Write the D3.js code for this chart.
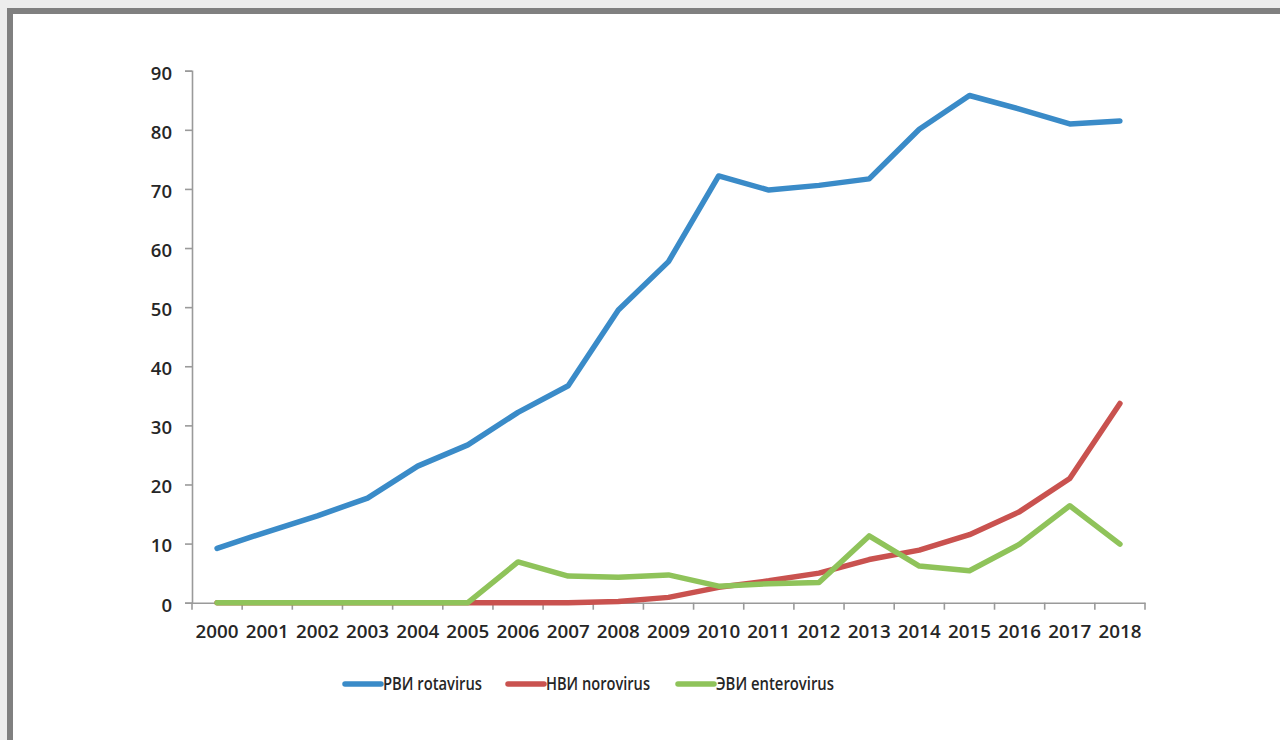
<!DOCTYPE html>
<html>
<head>
<meta charset="utf-8">
<script src="https://cdn.jsdelivr.net/npm/d3@7"></script>
<style>
  html, body { margin: 0; padding: 0; background: #fff; }
  svg { display: block; }
  text { font-family: "Open Sans", "Liberation Sans", sans-serif; fill: #262626; font-weight: 600; }
</style>
</head>
<body>
<svg id="chart" width="1280" height="740"></svg>
<script>
// Years on the category axis
const years = ["2000","2001","2002","2003","2004","2005","2006","2007","2008","2009",
               "2010","2011","2012","2013","2014","2015","2016","2017","2018"];

// Series values per year
const rotavirus  = [9.2, 12.0, 14.7, 17.7, 23.1, 26.7, 32.2, 36.7, 49.5, 57.7,
                    72.2, 69.8, 70.6, 71.7, 80.1, 85.8, 83.5, 81.0, 81.5];
const norovirus  = [0, 0, 0, 0, 0, 0, 0, 0, 0.2, 0.9,
                    2.6, 3.7, 5.0, 7.3, 8.9, 11.5, 15.4, 21.0, 33.7];
const enterovirus = [0, 0, 0, 0, 0, 0, 6.9, 4.5, 4.3, 4.7,
                     2.8, 3.2, 3.4, 11.3, 6.2, 5.4, 9.9, 16.4, 9.9];

// Y axis ticks
const yTicks = [0, 10, 20, 30, 40, 50, 60, 70, 80, 90];

const seriesNames  = ["РВИ rotavirus", "НВИ norovirus", "ЭВИ enterovirus"];
const seriesColors = ["#3a8bc8", "#c9524f", "#8fc35a"];
const seriesData   = [rotavirus, norovirus, enterovirus];

const svg = d3.select("#chart");

// Page frame: light outer strip with a darker border along top and left
svg.append("rect").attr("x", 0).attr("y", 0).attr("width", 1280).attr("height", 740).attr("fill", "#ededed");
svg.append("rect").attr("x", 7).attr("y", 8).attr("width", 1273).attr("height", 732).attr("fill", "#808080");
svg.append("rect").attr("x", 13).attr("y", 14).attr("width", 1267).attr("height", 726).attr("fill", "#ffffff");

const plot = { left: 192, right: 1145, top: 70.7, bottom: 602.7 };

const x = d3.scaleBand().domain(years).range([plot.left, plot.right]);
const y = d3.scaleLinear().domain([0, 90]).range([plot.bottom, plot.top]);

const axisColor = "#9a9a9a";

// Y axis
const yAxis = svg.append("g")
  .attr("transform", `translate(${plot.left},0)`)
  .call(d3.axisLeft(y).tickValues(yTicks).tickSize(7).tickPadding(13));
yAxis.select(".domain").attr("stroke", axisColor).attr("stroke-width", 1.6);
yAxis.selectAll(".tick line").attr("stroke", axisColor).attr("stroke-width", 1.6);
yAxis.selectAll(".tick text")
  .style("font-family", "'Open Sans', sans-serif")
  .style("font-weight", 600)
  .style("font-size", "18.5px").attr("fill", "#262626").attr("dy", "0.45em");

// X axis with ticks at the category boundaries
const xAxis = svg.append("g")
  .attr("transform", `translate(0,${plot.bottom})`)
  .call(d3.axisBottom(x).tickSize(0).tickPadding(23));
xAxis.select(".domain").attr("stroke", axisColor).attr("stroke-width", 1.6);
xAxis.selectAll(".tick text")
  .style("font-family", "'Open Sans', sans-serif")
  .style("font-weight", 600)
  .style("font-size", "18px").attr("fill", "#262626")
  .attr("textLength", 43).attr("lengthAdjust", "spacingAndGlyphs");
const bounds = years.map(d => x(d)).concat([x(years[years.length - 1]) + x.bandwidth()]);
xAxis.selectAll(".bound")
  .data(bounds)
  .enter().append("line")
  .attr("class", "bound")
  .attr("x1", d => d).attr("x2", d => d)
  .attr("y1", 0).attr("y2", 7)
  .attr("stroke", axisColor).attr("stroke-width", 1.6);

// Series lines
const line = d3.line()
  .x((d, i) => x(years[i]) + x.bandwidth() / 2)
  .y(d => y(d));

[1, 0, 2].forEach(k => {
  svg.append("path")
    .datum(seriesData[k])
    .attr("d", line)
    .attr("fill", "none")
    .attr("stroke", seriesColors[k])
    .attr("stroke-width", 5.5)
    .attr("stroke-linejoin", "round")
    .attr("stroke-linecap", "round");
});

// Legend
const legendX = [345, 508, 678];
const legendW = [99, 104, 118];
const legendY = 684;
const legend = svg.append("g");
seriesNames.forEach((name, i) => {
  legend.append("line")
    .attr("x1", legendX[i]).attr("x2", legendX[i] + 36)
    .attr("y1", legendY).attr("y2", legendY)
    .attr("stroke", seriesColors[i]).attr("stroke-width", 5.5)
    .attr("stroke-linecap", "round");
  legend.append("text")
    .attr("x", legendX[i] + 38).attr("y", legendY)
    .attr("dy", "0.36em")
    .attr("textLength", legendW[i])
    .attr("lengthAdjust", "spacingAndGlyphs")
    .style("font-size", "18px")
    .text(name);
});
</script>
</body>
</html>
